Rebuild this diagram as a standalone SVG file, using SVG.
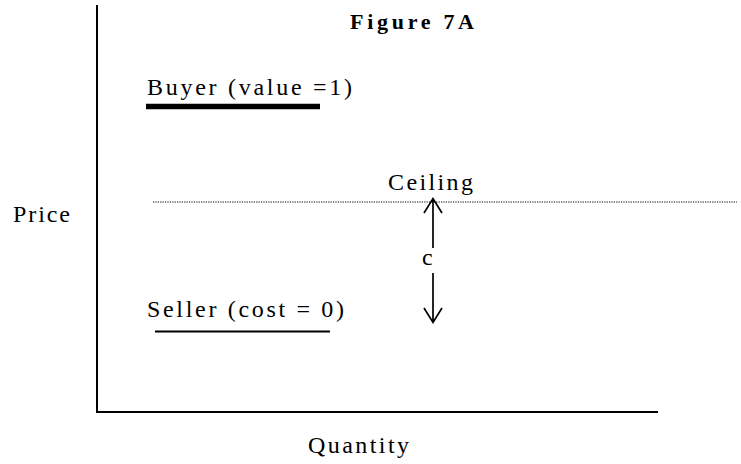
<svg xmlns="http://www.w3.org/2000/svg" width="741" height="464" viewBox="0 0 741 464">
<defs>
<style>
.t{font-family:'Liberation Serif','Times New Roman',serif;fill:#000;font-size:24px;letter-spacing:3px}
.ax{stroke:#000;stroke-width:2;fill:none}
.arr{stroke:#000;stroke-width:1.7;fill:none}
</style>
</defs>
<rect width="741" height="464" fill="#fff"/>
<g id="axes">
<path class="ax" d="M97,5 V412 H658"/>
</g>
<text class="t" x="350" y="29" style="font-size:22px;font-weight:bold;letter-spacing:4px" textLength="128" lengthAdjust="spacing">Figure 7A</text>
<text class="t" x="13" y="222" textLength="60" lengthAdjust="spacing">Price</text>
<text class="t" x="308" y="453" textLength="104" lengthAdjust="spacing">Quantity</text>
<g id="buyer">
<text class="t" x="147" y="95" textLength="208" lengthAdjust="spacing">Buyer (value =1)</text>
<line x1="146" y1="106.5" x2="320" y2="106.5" stroke="#000" stroke-width="5.5"/>
</g>
<g id="ceiling">
<text class="t" x="388" y="190" textLength="88" lengthAdjust="spacing">Ceiling</text>
<line x1="153" y1="202" x2="737" y2="202" stroke="#000" stroke-width="1.2" stroke-dasharray="1.2,1.2"/>
</g>
<g id="seller">
<text class="t" x="147" y="317" textLength="200" lengthAdjust="spacing">Seller (cost = 0)</text>
<line x1="155" y1="331.5" x2="330" y2="331.5" stroke="#000" stroke-width="2"/>
</g>
<g id="connectors">
<path class="arr" d="M433,248 V199 M424,213 L433,198.5 L442,213"/>
<path class="arr" d="M433,273 V322 M424,308 L433,322.5 L442,308"/>
<text class="t" x="422" y="265" style="letter-spacing:0">c</text>
</g>
</svg>
